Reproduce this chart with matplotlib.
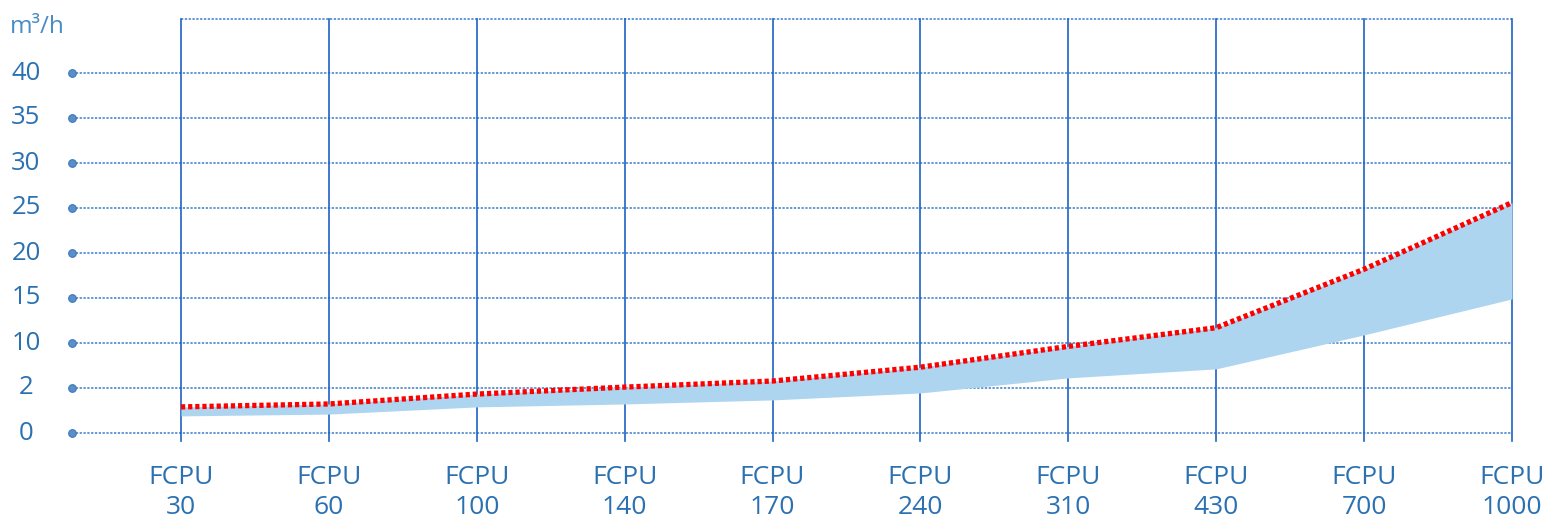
import numpy as np
import matplotlib
matplotlib.use("Agg")
import matplotlib.pyplot as plt
import matplotlib.transforms as mtransforms

# ---- data ----
models = ["30", "60", "100", "140", "170", "240", "310", "430", "700", "1000"]
flow_max = [1.16, 1.29, 1.73, 2.16, 3.24, 5.7, 9.4, 11.7, 18.2, 25.6]
flow_min = [0.76, 0.84, 1.16, 1.29, 1.47, 1.78, 3.8, 5.4, 10.9, 14.9]
ytick_values = [0, 2, 10, 15, 20, 25, 30, 35, 40]

# piecewise-linear axis scale (each labelled gridline equally spaced)
bp_val = np.array([-100.0] + ytick_values + [140.0])
bp_pos = np.array([-50.0] + list(range(len(ytick_values))) + [28.0])

def fwd(v):
    return np.interp(v, bp_val, bp_pos)

def inv(p):
    return np.interp(p, bp_pos, bp_val)

W, H = 1548, 521
fig = plt.figure(figsize=(W / 100, H / 100), dpi=100)
ax = fig.add_axes([0, 0, 1, 1])
ax.set_yscale("function", functions=(fwd, inv))

# pixel geometry -> data limits
x0px, dxpx = 181.0, (1512.0 - 181.0) / 9
y0px, dypx = 433.0, 45.0
ax.set_xlim((0 - x0px) / dxpx, (W - x0px) / dxpx)
ax.set_ylim(inv((y0px - H) / dypx), inv(y0px / dypx))
ax.axis("off")

x = np.arange(len(models))
grid_c = "#3b7dc9"
vline_c = "#1f62c4"
text_c = "#2b71b2"

xdot = (72 - x0px) / dxpx
ybot = inv((y0px - 441) / dypx)
ytop = inv((y0px - 19) / dypx)

# horizontal dashed gridlines with dots
for v in ytick_values:
    ax.plot([xdot, x[-1]], [v, v], color=grid_c, lw=1.1, dashes=(1.5, 1.0), zorder=1)
    ax.plot([xdot], [v], "o", color="#5b8fc8", ms=5.5, mec="#3b78c0", mew=0.8, zorder=3)
ax.plot([x[0], x[-1]], [ytop, ytop], color=grid_c, lw=1.1, dashes=(1.5, 1.0), zorder=1)

# vertical lines
for xi in x:
    ax.plot([xi, xi], [ybot, ytop], color=vline_c, lw=1.2, zorder=1)

# band + max line
ax.fill_between(x, flow_min, flow_max, color="#aed5f0", lw=0, zorder=2)
ax.plot(x, flow_max, color="#ff0000", lw=3.8, dashes=(0.8, 0.55),
        solid_capstyle="butt", dash_capstyle="butt", zorder=4)

font = "Open Sans"
# y labels
xlab = (26 - x0px) / dxpx
for v in ytick_values:
    ax.text(xlab, v, str(v), ha="center", va="center", fontsize=18.5,
            color=text_c, family=font)

# unit label
fig.text(10 / W, 1 - 27 / H, "m³/h", ha="left", va="center", fontsize=17.5,
         color="#4a8cc6", family=font)

# x labels
tr = mtransforms.blended_transform_factory(ax.transData, fig.transFigure)
for xi, m in zip(x, models):
    ax.text(xi, 1 - 477 / H, "FCPU", ha="center", va="center", fontsize=19,
            color=text_c, family=font, transform=tr)
    ax.text(xi, 1 - 508 / H, m, ha="center", va="center", fontsize=19,
            color=text_c, family=font, transform=tr)

fig.savefig("out.png", dpi=100)
